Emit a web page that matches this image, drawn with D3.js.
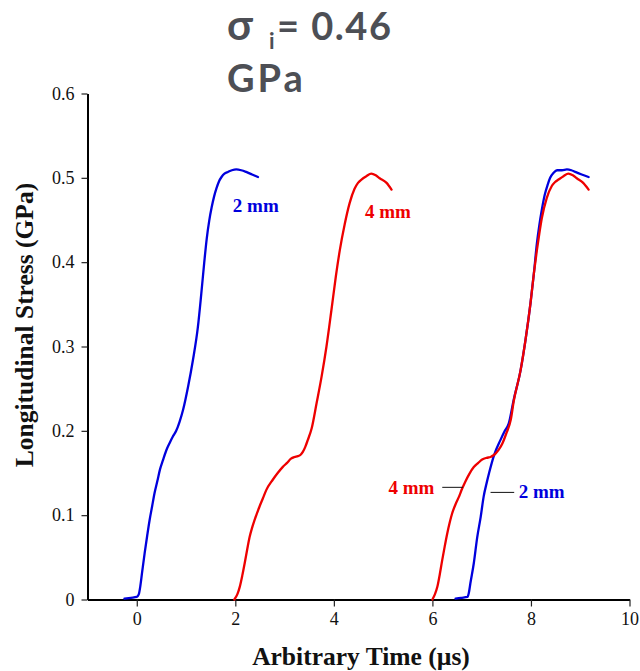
<!DOCTYPE html>
<html>
<head>
<meta charset="utf-8">
<script src="https://cdn.jsdelivr.net/npm/d3@7/dist/d3.min.js"></script>
<style>
  html, body { margin: 0; padding: 0; background: #fff; }
  svg { display: block; }
</style>
</head>
<body>
<svg id="chart" width="640" height="671"></svg>
<script>
// Longitudinal stress histories, [time (µs), stress (GPa)]
const blue2mmA = [[-0.25,0.001],[-0.12,0.002],[0.0,0.003],[0.04,0.006],[0.07,0.015],[0.11,0.033],[0.16,0.055],[0.21,0.075],[0.26,0.094],[0.31,0.11],[0.36,0.126],[0.42,0.141],[0.47,0.154],[0.53,0.165],[0.6,0.177],[0.67,0.186],[0.73,0.193],[0.8,0.2],[0.87,0.211],[0.94,0.225],[1.04,0.252],[1.14,0.284],[1.24,0.323],[1.31,0.363],[1.37,0.400],[1.42,0.428],[1.47,0.449],[1.52,0.465],[1.57,0.478],[1.62,0.488],[1.67,0.496],[1.72,0.501],[1.78,0.505],[1.85,0.507],[1.93,0.509],[2.02,0.510],[2.12,0.509],[2.22,0.507],[2.34,0.504],[2.46,0.501]];
const red4mmA = [[1.98,0.0],[2.04,0.006],[2.09,0.015],[2.14,0.028],[2.19,0.043],[2.24,0.059],[2.29,0.074],[2.34,0.085],[2.39,0.094],[2.49,0.110],[2.56,0.120],[2.63,0.130],[2.76,0.142],[2.86,0.150],[2.96,0.157],[3.05,0.162],[3.13,0.167],[3.2,0.169],[3.27,0.170],[3.33,0.172],[3.37,0.175],[3.42,0.181],[3.47,0.189],[3.55,0.203],[3.65,0.233],[3.75,0.264],[3.85,0.300],[3.95,0.343],[4.04,0.383],[4.12,0.414],[4.22,0.445],[4.32,0.470],[4.42,0.487],[4.49,0.494],[4.56,0.498],[4.66,0.502],[4.76,0.505],[4.85,0.503],[4.93,0.4995],[5.07,0.494],[5.17,0.486]];
const blue2mmB = [[6.47,0.001],[6.58,0.002],[6.71,0.003],[6.74,0.008],[6.77,0.019],[6.84,0.043],[6.91,0.074],[6.98,0.098],[7.04,0.122],[7.1,0.138],[7.15,0.150],[7.25,0.171],[7.38,0.189],[7.47,0.200],[7.55,0.209],[7.65,0.237],[7.79,0.272],[7.89,0.308],[7.99,0.351],[8.06,0.387],[8.12,0.422],[8.17,0.444],[8.22,0.462],[8.28,0.480],[8.34,0.492],[8.39,0.500],[8.46,0.506],[8.53,0.509],[8.63,0.509],[8.73,0.510],[8.82,0.509],[8.9,0.507],[9.03,0.504],[9.17,0.501]];
const red4mmB = [[6.0,0.0],[6.05,0.006],[6.1,0.015],[6.15,0.03],[6.2,0.047],[6.25,0.063],[6.3,0.078],[6.35,0.091],[6.4,0.102],[6.47,0.113],[6.54,0.122],[6.6,0.131],[6.67,0.140],[6.75,0.149],[6.84,0.157],[6.93,0.162],[7.01,0.166],[7.1,0.168],[7.18,0.169],[7.24,0.171],[7.28,0.173],[7.35,0.178],[7.42,0.185],[7.5,0.197],[7.59,0.213],[7.65,0.235],[7.79,0.272],[7.89,0.308],[7.99,0.351],[8.06,0.387],[8.12,0.414],[8.17,0.434],[8.22,0.452],[8.32,0.476],[8.42,0.490],[8.49,0.495],[8.56,0.498],[8.66,0.502],[8.76,0.505],[8.85,0.503],[8.93,0.4995],[9.06,0.494],[9.17,0.486]];

const xTicks = [0, 2, 4, 6, 8, 10];
const yTicks = [0, 0.1, 0.2, 0.3, 0.4, 0.5, 0.6];
const yTickLabels = ["0", "0.1", "0.2", "0.3", "0.4", "0.5", "0.6"];

const BLUE = "#0000dd", RED = "#ee0000";
const serif = "'Liberation Serif', 'Times New Roman', serif";
const headFont = "Lato, 'DejaVu Sans', sans-serif";

const svg = d3.select("#chart");
const x = d3.scaleLinear().domain([-1, 10]).range([87.5, 629.5]);
const y = d3.scaleLinear().domain([0, 0.6]).range([599.5, 93.5]);

// axes
const xAxis = svg.append("g").attr("transform", `translate(0,${y(0)})`)
  .call(d3.axisBottom(x).tickValues(xTicks).tickSize(7).tickPadding(6).tickSizeOuter(0));
const yAxis = svg.append("g").attr("transform", `translate(${x(-1)},0)`)
  .call(d3.axisLeft(y).tickValues(yTicks).tickFormat((d, i) => yTickLabels[i]).tickSize(6).tickPadding(7).tickSizeOuter(0));
[xAxis, yAxis].forEach(g => {
  g.select(".domain").attr("stroke", "#000").attr("stroke-width", 2);
  g.selectAll(".tick line").attr("stroke", "#222").attr("stroke-width", 1.2);
  g.selectAll(".tick text").attr("fill", "#111").style("font-family", serif).style("font-size", "18px");
});

// curves
const line = d3.line().x(d => x(d[0])).y(d => y(d[1])).curve(d3.curveMonotoneX);
[[blue2mmA, BLUE], [red4mmA, RED], [blue2mmB, BLUE], [red4mmB, RED]].forEach(([data, c]) => {
  svg.append("path").datum(data).attr("d", line)
    .attr("fill", "none").attr("stroke", c).attr("stroke-width", 2.3)
    .attr("stroke-linejoin", "round").attr("stroke-linecap", "round");
});

// curve labels
function label(txt, px, py, color, anchor) {
  svg.append("text").attr("x", px).attr("y", py).attr("text-anchor", anchor || "start")
    .attr("fill", color).style("font-family", serif).style("font-weight", "bold")
    .style("font-size", "19px").text(txt);
}
label("2 mm", x(1.95), y(0.460), BLUE);
label("4 mm", x(4.63), y(0.452), RED);
label("4 mm", x(6.04), y(0.125), RED, "end");
label("2 mm", x(7.75), y(0.120), BLUE);
// leader lines
svg.append("line").attr("x1", x(6.2)).attr("x2", x(6.62)).attr("y1", y(0.133)).attr("y2", y(0.133))
  .attr("stroke", "#111").attr("stroke-width", 1);
svg.append("line").attr("x1", x(7.18)).attr("x2", x(7.66)).attr("y1", y(0.127)).attr("y2", y(0.127))
  .attr("stroke", "#111").attr("stroke-width", 1);

// axis titles
svg.append("text").attr("x", 361).attr("y", 665).attr("text-anchor", "middle")
  .style("font-family", serif).style("font-weight", "bold").style("font-size", "25.5px")
  .attr("fill", "#111").text("Arbitrary Time (µs)");
svg.append("text").attr("transform", "translate(33,325) rotate(-90)").attr("text-anchor", "middle")
  .style("font-family", serif).style("font-weight", "bold").style("font-size", "25.5px")
  .attr("fill", "#111").text("Longitudinal Stress (GPa)");

// heading
const head = svg.append("text").attr("y", 40)
  .style("font-family", headFont).style("font-weight", "bold")
  .style("font-size", "38px").attr("fill", "#4d4f55");
head.append("tspan").attr("x", 227).style("font-size", "42px").text("σ");
head.append("tspan").attr("x", 269).attr("dy", 9).style("font-size", "22px").text("i");
head.append("tspan").attr("x", 277).attr("dy", -9).style("letter-spacing", "1.5px").text("= 0.46");
svg.append("text").attr("x", 227).attr("y", 92)
  .style("font-family", headFont).style("font-weight", "bold").style("letter-spacing", "3px")
  .style("font-size", "38px").attr("fill", "#4d4f55").text("GPa");
</script>
</body>
</html>
